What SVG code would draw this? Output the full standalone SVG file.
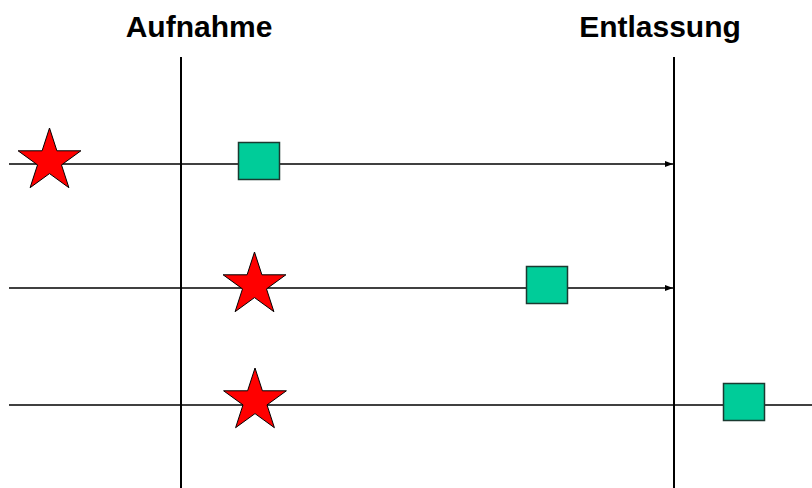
<svg xmlns="http://www.w3.org/2000/svg" width="812" height="488" viewBox="0 0 812 488">
<style>
.lbl{font-family:"Liberation Sans",Arial,sans-serif;font-weight:bold;font-size:30px;fill:#000;text-anchor:middle}
.ln{stroke:#000;stroke-width:1.3;fill:none}
.vl{stroke:#000;stroke-width:2;fill:none}
.star{fill:#ff0000;stroke:#000;stroke-width:1}
.sq{fill:#00cc99;stroke:#1a3a30;stroke-width:1.5}
</style>
<defs>
<marker id="ah" markerWidth="8" markerHeight="6" refX="8" refY="3" orient="auto" markerUnits="userSpaceOnUse">
<path d="M0,0 L8,3 L0,6 Z" fill="#000"/>
</marker>
<polygon id="starShape" points="0,-33 7.4,-10.2 31.4,-10.2 12,3.9 19.4,26.7 0,12.6 -19.4,26.7 -12,3.9 -31.4,-10.2 -7.4,-10.2"/>
</defs>
<g id="label-aufnahme"><text class="lbl" x="199" y="37">Aufnahme</text></g>
<g id="label-entlassung"><text class="lbl" x="660" y="37">Entlassung</text></g>
<g id="connectors">
<line class="vl" x1="181" y1="57" x2="181" y2="488"/>
<line class="vl" x1="674" y1="57" x2="674" y2="488"/>
<line class="ln" x1="9" y1="164" x2="673" y2="164" marker-end="url(#ah)"/>
<line class="ln" x1="9" y1="288" x2="673" y2="288" marker-end="url(#ah)"/>
<line class="ln" x1="9" y1="405" x2="812" y2="405"/>
</g>
<g id="star1"><use href="#starShape" class="star" transform="translate(49.5,161)"/></g>
<g id="star2"><use href="#starShape" class="star" transform="translate(254.5,285)"/></g>
<g id="star3"><use href="#starShape" class="star" transform="translate(255,401)"/></g>
<g id="square1"><rect class="sq" x="238.5" y="142.5" width="41" height="37"/></g>
<g id="square2"><rect class="sq" x="526.5" y="266.5" width="41" height="37"/></g>
<g id="square3"><rect class="sq" x="723.5" y="383.5" width="41" height="37"/></g>
</svg>
